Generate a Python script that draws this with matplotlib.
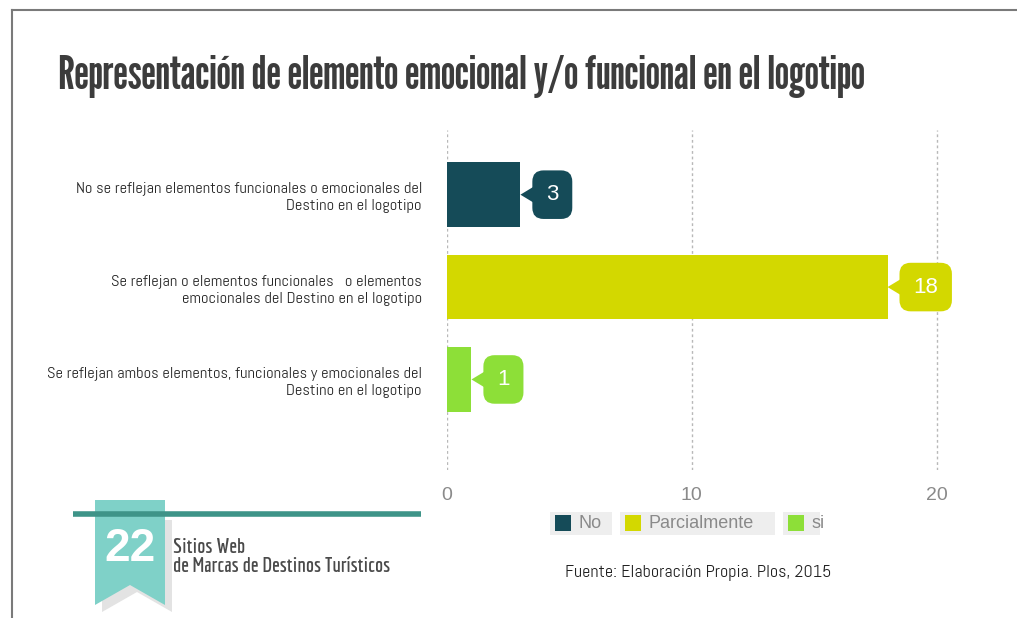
import matplotlib
matplotlib.use("Agg")
import matplotlib.pyplot as plt
from matplotlib.patches import Rectangle, Polygon
from matplotlib.lines import Line2D

W, H = 1017, 618

title = "Representación de elemento emocional y/o funcional en el logotipo"
categories = [
    "No se reflejan elementos funcionales o emocionales del\nDestino en el logotipo",
    "Se reflejan o elementos funcionales   o elementos\nemocionales del Destino en el logotipo",
    "Se reflejan ambos elementos, funcionales y emocionales del\nDestino en el logotipo",
]
series = ["No", "Parcialmente", "si"]
values = [3, 18, 1]
colors = ["#154b58", "#d3d800", "#8ddf38"]
xticks = [0, 10, 20]
source = "Fuente: Elaboración Propia. Plos, 2015"
badge_num = "22"
badge_text = "Sitios Web\nde Marcas de Destinos Turísticos"

TITLE_F = ["League Gothic", "Oswald", "DejaVu Sans"]
COND = ["Abel", "DejaVu Sans"]
BADGE_F = ["Economica", "Abel", "DejaVu Sans"]
SANS = ["Liberation Sans", "DejaVu Sans"]

fig = plt.figure(figsize=(W / 100, H / 100), dpi=100)
fig.patch.set_facecolor("white")


def fx(px):
    return px / W


def fy(py):
    return 1 - py / H


def fit_width(t, target_px):
    fig.canvas.draw()
    w = t.get_window_extent().width
    t.set_fontsize(t.get_fontsize() * target_px / w)


# frame
fig.add_artist(Line2D([fx(12), fx(1017)], [fy(10), fy(10)], color="#7a7a7a", lw=1.5))
fig.add_artist(Line2D([fx(12), fx(12)], [fy(10), fy(618)], color="#7a7a7a", lw=1.5))

# title
tt = fig.text(fx(58), fy(89), title, fontsize=30, family=TITLE_F,
              color="#3c3c3c", va="baseline", ha="left")
fit_width(tt, 809)

ax = fig.add_axes([fx(447), fy(470), fx(961) - fx(447), fy(130) - fy(470)])
ypos = list(range(len(categories)))
ax.barh(ypos, values, height=0.7, color=colors, zorder=3)
ax.set_xlim(0, 21)
ax.set_ylim(2.98, -0.7)
ax.set_xticks(xticks)
ax.set_xticklabels([str(t) for t in xticks], fontsize=14, color="#8a8a8a", family=SANS)
ax.set_yticks(ypos)
ax.set_yticklabels(categories, fontsize=11.8, color="#262626", family=COND, linespacing=1.3)
ax.tick_params(axis="both", length=0)
ax.tick_params(axis="x", pad=12)
ax.tick_params(axis="y", pad=18)
for s in ax.spines.values():
    s.set_visible(False)
ax.grid(axis="x", color="#b8b8b8", linestyle=(0, (2, 2)), lw=1, zorder=0)
ax.grid(axis="y", visible=False)
ax.set_facecolor("none")

# callouts
for y, v, c in zip(ypos, values, colors):
    ax.annotate(str(v), xy=(v, y), xytext=(18.5, 0), textcoords="offset points",
                ha="left", va="center", fontsize=16, color="white", family=SANS,
                bbox=dict(boxstyle="round,pad=0.62,rounding_size=0.5", fc=c, ec="none"),
                arrowprops=dict(arrowstyle="wedge,tail_width=1.4", fc=c, ec="none",
                                relpos=(0, 0.5), shrinkA=0, shrinkB=0, patchA=None),
                zorder=4)

# legend (manual)
leg_boxes = [(550, 612), (620, 775), (783, 820)]
for (x0, x1), name, c in zip(leg_boxes, series, colors):
    fig.add_artist(Rectangle((fx(x0), fy(535)), fx(x1) - fx(x0), fy(512) - fy(535),
                             transform=fig.transFigure, fc="#eeeeee", ec="none"))
    fig.add_artist(Rectangle((fx(x0 + 5), fy(531)), fx(16), fy(515) - fy(531),
                             transform=fig.transFigure, fc=c, ec="none"))
    fig.text(fx(x0 + 29), fy(523), name, fontsize=13, color="#8a8a8a", family=SANS,
             va="center", ha="left")

# source
st = fig.text(fx(698), fy(573), source, fontsize=13, color="#222222", family=COND,
              ha="center", va="center")
fit_width(st, 265)

# badge
fig.add_artist(Line2D([fx(73), fx(421)], [fy(514), fy(514)], color="#3e9488", lw=4,
                      solid_capstyle="butt"))
shadow = [(102, 520), (172, 520), (172, 612), (137, 592), (102, 612)]
fig.add_artist(Polygon([(fx(x), fy(y)) for x, y in shadow], closed=True,
                       transform=fig.transFigure, fc="#e3e3e3", ec="none"))
ribbon = [(95, 500), (165, 500), (165, 605), (130, 585), (95, 605)]
fig.add_artist(Polygon([(fx(x), fy(y)) for x, y in ribbon], closed=True,
                       transform=fig.transFigure, fc="#7fd1c8", ec="none"))
fig.text(fx(130), fy(549), badge_num, fontsize=33, fontweight="bold", color="white",
         family=SANS, ha="center", va="center")
bt = fig.text(fx(173), fy(557), badge_text, fontsize=12, fontweight="bold", color="#4a4a4a",
              family=BADGE_F, ha="left", va="center", linespacing=1.05)
fit_width(bt, 216)

fig.savefig("out.png", dpi=100)
